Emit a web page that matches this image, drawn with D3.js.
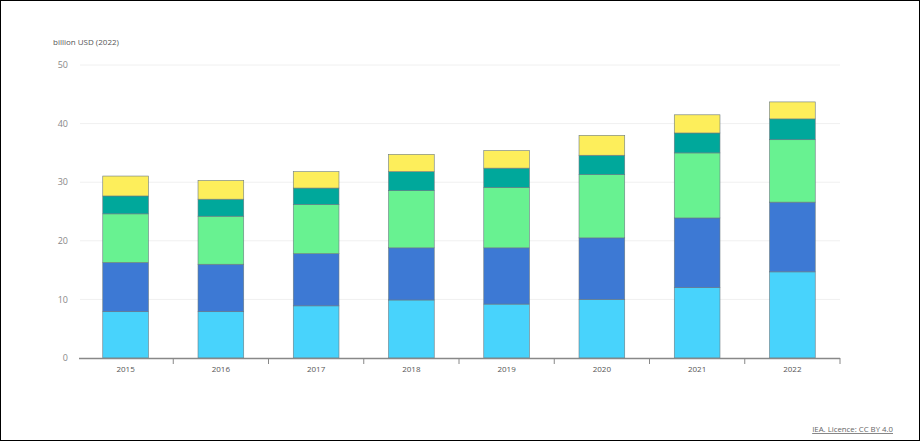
<!DOCTYPE html>
<html>
<head>
<meta charset="utf-8">
<script src="https://cdn.jsdelivr.net/npm/d3@7"></script>
<style>
  body { margin: 0; background: #fff; }
  svg { display: block; font-family: "Open Sans", sans-serif; }
</style>
</head>
<body>
<svg width="920" height="441"></svg>
<script>
var years = ["2015", "2016", "2017", "2018", "2019", "2020", "2021", "2022"];
var yTicks = [0, 10, 20, 30, 40, 50];

// stacked from bottom to top
var series1 = [7.9, 7.9, 8.9, 9.9, 9.2, 10.0, 12.0, 14.7];
var series2 = [8.4, 8.1, 8.9, 8.9, 9.6, 10.5, 11.9, 11.9];
var series3 = [8.3, 8.2, 8.4, 9.75, 10.3, 10.8, 11.1, 10.65];
var series4 = [3.05, 2.9, 2.8, 3.25, 3.3, 3.3, 3.4, 3.55];
var series5 = [3.4, 3.2, 2.8, 2.95, 3.0, 3.4, 3.1, 2.9];

var seriesNames = ["s1", "s2", "s3", "s4", "s5"];
var seriesColors = ["#48d3fc", "#3d79d4", "#68f291", "#00a89b", "#fdee5b"];

var svg = d3.select("svg"),
    width = +svg.attr("width"),
    height = +svg.attr("height");

// outer frame
svg.append("rect")
    .attr("x", 0.5).attr("y", 0.5)
    .attr("width", width - 1).attr("height", height - 1)
    .attr("fill", "none").attr("stroke", "#000");

var x = d3.scaleBand()
    .domain(years)
    .range([78, 840])
    .paddingInner(0.52)
    .paddingOuter(0.26);

var y = d3.scaleLinear()
    .domain([0, 50])
    .range([358, 65]);

var data = years.map(function (yr, i) {
  return { year: yr, s1: series1[i], s2: series2[i], s3: series3[i], s4: series4[i], s5: series5[i] };
});

var stack = d3.stack().keys(seriesNames)(data);

// gridlines
svg.append("g")
  .selectAll("line")
  .data(yTicks.slice(1))
  .enter().append("line")
    .attr("x1", 80).attr("x2", 840)
    .attr("y1", function (d) { return y(d); })
    .attr("y2", function (d) { return y(d); })
    .attr("stroke", "#f0f0f0")
    .attr("stroke-width", 1);

// y labels
svg.append("g")
  .selectAll("text")
  .data(yTicks)
  .enter().append("text")
    .attr("x", 68)
    .attr("y", function (d) { return y(d); })
    .attr("dy", "0.35em")
    .attr("text-anchor", "end")
    .attr("font-size", "9px")
    .attr("fill", "#888")
    .text(function (d) { return d; });

svg.append("text")
    .attr("x", 53).attr("y", 45)
    .attr("font-size", "8px")
    .attr("fill", "#555")
    .text("billion USD (2022)");

// bars
svg.append("g")
  .selectAll("g")
  .data(stack)
  .enter().append("g")
    .attr("fill", function (d, i) { return seriesColors[i]; })
  .selectAll("rect")
  .data(function (d) { return d; })
  .enter().append("rect")
    .attr("x", function (d) { return x(d.data.year); })
    .attr("y", function (d) { return y(d[1]); })
    .attr("height", function (d) { return y(d[0]) - y(d[1]); })
    .attr("width", x.bandwidth())
    .attr("stroke", "#6a7a80")
    .attr("stroke-width", 0.6);

// x axis
var xAxis = svg.append("g");
xAxis.append("line")
    .attr("x1", 79).attr("x2", 840)
    .attr("y1", 358.5).attr("y2", 358.5)
    .attr("stroke", "#888").attr("stroke-width", 1.5);

var step = x.step();
xAxis.selectAll(".tick")
  .data(years)
  .enter().append("line")
    .attr("class", "tick")
    .attr("x1", function (d) { return x(d) - step * 0.26 + step; })
    .attr("x2", function (d) { return x(d) - step * 0.26 + step; })
    .attr("y1", 358).attr("y2", 364)
    .attr("stroke", "#888").attr("stroke-width", 1);

xAxis.selectAll(".lbl")
  .data(years)
  .enter().append("text")
    .attr("class", "lbl")
    .attr("x", function (d) { return x(d) + x.bandwidth() / 2; })
    .attr("y", 372)
    .attr("text-anchor", "middle")
    .attr("font-size", "8px")
    .attr("fill", "#555")
    .text(function (d) { return d; });

// credit
svg.append("text")
    .attr("x", 893).attr("y", 432)
    .attr("text-anchor", "end")
    .attr("font-size", "7.8px")
    .attr("fill", "#666")
    .attr("text-decoration", "underline")
    .text("IEA. Licence: CC BY 4.0");
</script>
</body>
</html>
